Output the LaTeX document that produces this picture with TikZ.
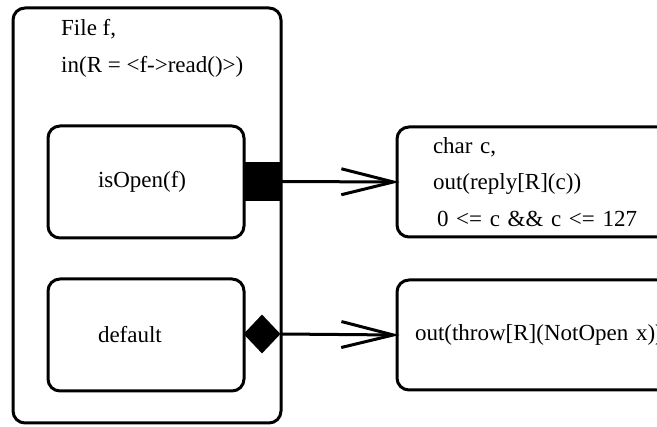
\documentclass[tikz,border=0pt]{standalone}
\usepackage{fontspec}
\setmainfont{Liberation Serif}
\usetikzlibrary{arrows.meta}
\usetikzlibrary{shapes.geometric}

\begin{document}
\begin{tikzpicture}
[x=1pt,y=-1pt,font=\fontsize{23}{36.5}\selectfont,
  boxdecorate/.style={shape=rectangle,rounded corners=12pt,draw,line width=3pt,inner sep=0pt,align=left},
  portdecorate/.style={fill,draw=none,inner sep=0pt},
  linedecorate/.style={line width=3pt,-{Straight Barb[length=52pt,width=26pt]},shorten >=-4pt}]
\clip (0,0) rectangle (657,427);
%% boxes
\node (file) at (147,215.5) [boxdecorate,minimum width=268pt,minimum height=415pt] {};
\node (isopen) at (146,182) [boxdecorate,minimum width=196pt,minimum height=112pt,
  inner xsep=50pt,text width=96pt] {isOpen(f)};
\node (dflt) at (146,335) [boxdecorate,minimum width=196pt,minimum height=112pt,
  inner xsep=50pt,text width=96pt] {default};
\node (reply) at (562,182) [boxdecorate,minimum width=330pt,minimum height=110pt,
  inner xsep=36pt,text width=258pt] {char c,\\out(reply[R](c))\\\hspace*{4pt}0 <= c \&\& c <= 127};
\node (throw) at (562,335) [boxdecorate,minimum width=330pt,minimum height=110pt,
  inner xsep=18pt,text width=294pt] {out(throw[R](NotOpen x))};
%% declarations of the outer box
\foreach \txt/\y [count=\i] in {{File f,}/36, {in(R = <f->read()>)}/73}
{
  \node (decl\i) at (61,\y) [anchor=base west,inner sep=0pt] {\txt};
}
%% ports
\node (port1) at (262.5,181.5) [portdecorate,shape=rectangle,minimum size=39pt] {};
\node (port2) at (262,334) [portdecorate,shape=diamond,minimum width=37pt,minimum height=39pt] {};
%% edges
\path
\foreach \startnode/\endnode in {port1/reply, port2/throw}
{
  (\startnode.east) edge[linedecorate] (\endnode.west)
};
\end{tikzpicture}
\end{document}
